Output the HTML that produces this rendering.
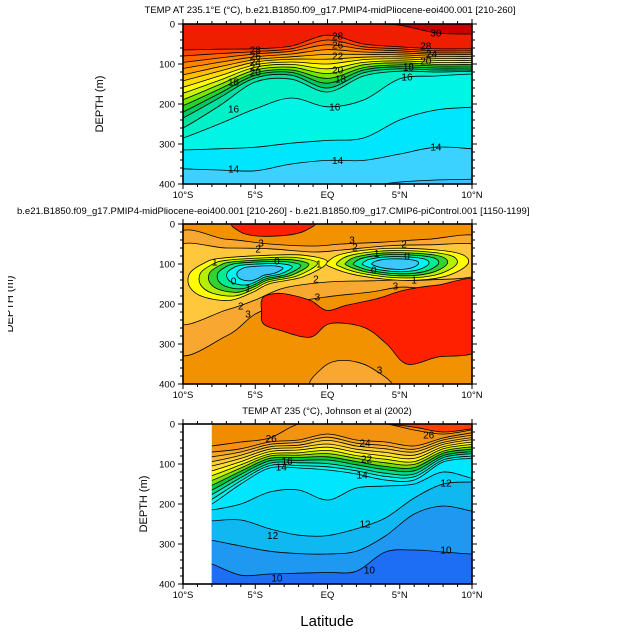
<!DOCTYPE html>
<html><head><meta charset="utf-8">
<style>
html,body{margin:0;padding:0;background:#fff;}
svg{display:block;font-family:"Liberation Sans",sans-serif;}
</style></head>
<body>
<svg id="chart" width="637" height="636" viewBox="0 0 637 636" xmlns="http://www.w3.org/2000/svg">
<text x="330" y="13" font-size="9.5" text-anchor="middle">TEMP AT 235.1°E (°C), b.e21.B1850.f09_g17.PMIP4-midPliocene-eoi400.001 [210-260]</text>
<text x="17" y="214" font-size="9.5">b.e21.B1850.f09_g17.PMIP4-midPliocene-eoi400.001 [210-260] - b.e21.B1850.f09_g17.CMIP6-piControl.001 [1150-1199]</text>
<text x="327" y="414" font-size="9.5" text-anchor="middle">TEMP AT 235 (°C), Johnson et al (2002)</text>
<text transform="translate(103,104) rotate(-90)" font-size="11" text-anchor="middle">DEPTH (m)</text>
<g clip-path="url(#ylab2clip)"><text transform="translate(13,304) rotate(-90)" font-size="11" text-anchor="middle">DEPTH (m)</text></g>
<text transform="translate(147,504) rotate(-90)" font-size="11" text-anchor="middle">DEPTH (m)</text>
<text x="327" y="626" font-size="15" text-anchor="middle">Latitude</text>
<defs>
<clipPath id="ylab2clip"><rect x="8" y="250" width="20" height="120"/></clipPath>
<clipPath id="clip1"><rect x="183" y="24" width="289" height="160"/></clipPath>
<clipPath id="clip2"><rect x="183" y="224" width="289" height="160"/></clipPath>
<clipPath id="clip3"><rect x="211.9" y="424" width="260.1" height="160"/></clipPath>
</defs>
<g id="layer"></g>
</svg>
<script>
// ---------- data ----------
const lats1 = [-10,-7.5,-5,-2.5,0,2.5,5,7.5,10];
const levels1 = ['30','28','27','26','25','24','23','22','21','20','19','18','17','16.5','16','15','14','13'];
const depth1 = [
 [0,0,0,0,0,0,3,22,25],
 [65,63,62,55,28,50,57,62,62],
 [80,74,69,62,40,57,62,67,67],
 [96,85,75,68,52,63,67,72,72],
 [111,96,82,75,64,70,72,76,76],
 [127,107,89,82,76,76,77,81,81],
 [142,118,95,88,88,83,82,86,86],
 [158,130,102,95,100,89,87,91,91],
 [173,141,108,101,112,96,92,96,96],
 [189,152,115,108,124,102,97,101,101],
 [204,163,122,115,136,109,102,105,105],
 [220,174,128,121,148,115,107,110,110],
 [235,185,135,128,160,122,112,115,115],
 [260,205,145,138,170,130,118,120,118],
 [285,250,212,185,207,190,137,130,125],
 [315,312,308,298,291,285,240,215,208],
 [362,365,367,350,341,341,325,308,312],
 [405,405,405,405,405,405,395,390,388]
];
const colors1 = ['#f01e00','#ff4600','#ff6400','#ff8200','#ffa000','#ffbe00','#ffdc00','#ffff00','#c8f500','#78e600','#28d228','#00c864','#00e0a0','#00f0c8','#00f5e6','#00e6ff','#3cd2ff','#3cc0ff'];
const labels1 = [['28',-5,65],['26',-5,80],['24',-5,95],['22',-5,108],['20',-5,120],['18',-6.5,145],['16',-6.5,212],['16',0.5,207],['16',5.5,133],['14',-6.5,362],['14',0.7,341],['14',7.5,308],['28',0.7,30],['26',0.7,52],['22',0.7,80],['20',0.7,115],['18',0.9,138],['30',7.5,22],['28',6.8,55],['24',7.2,75],['20',6.8,92],['18',5.6,108]];

const lats3 = [-8,-6,-4,-2,0,2,4,6,8,10];
const levels3 = ['28','26','25','24','23','22','21','20','19','18','17','16','15','14','13','12','11','10'];
const depth3 = [
 [0,0,0,0,0,0,0,8,20,12],
 [55,45,35,0,0,0,0,15,25,15],
 [70,62,45,40,25,40,45,55,35,22],
 [82,70,51,46,33,48,54,63,40,28],
 [94,78,57,53,41,55,62,70,46,34],
 [105,86,63,59,50,63,71,78,51,39],
 [117,94,69,65,58,71,80,86,57,45],
 [129,102,75,72,66,79,88,94,62,51],
 [141,110,80,78,74,86,97,101,68,57],
 [153,118,86,84,82,94,106,109,73,63],
 [165,126,92,91,90,102,114,117,79,69],
 [176,134,98,97,99,110,123,125,84,74],
 [188,142,104,104,107,117,131,132,90,80],
 [200,150,110,110,115,125,140,140,95,86],
 [215,200,170,165,190,160,155,150,120,136],
 [242,240,262,278,279,262,235,185,150,145],
 [291,305,318,324,325,318,280,225,205,218],
 [350,378,375,373,371,368,320,315,320,325]
];
const colors3 = ['#f08c00','#f29312','#f5a623','#f8b830','#fccc30','#ffe030','#ffff00','#c8f000','#78dc00','#00c83c','#00dc8c','#00ebc8','#00f5f0','#00e6ff','#00d4f8','#10b8f2','#1e98f0','#1e6ef5'];
const labels3 = [['26',-3.9,36],['24',2.6,47],['26',7,28],['14',-3.2,108],['14',2.4,128],['12',-3.8,279],['12',2.6,250],['12',8.2,147],['10',-3.5,385],['10',2.9,365],['10',8.2,315],['16',-2.8,92],['22',2.7,88]];

// panel 2 (difference) shapes in (lat, depth)
const p2Base = '#f39200';
const p2Band3 = [[-10.6,35],[-7,38],[-4,50],[-1,55],[1,50],[4,45],[7,38],[10.6,35],[10.6,150],[7,160],[5,158],[3,170],[0,182],[-3,200],[-5,225],[-7,280],[-10.6,316]];
const p2Band2 = [[-10.6,62],[-7,60],[-4,62],[-1,70],[1,65],[4,55],[7,52],[10.6,55],[10.6,125],[7,140],[5,140],[3,142],[0,145],[-3,160],[-5,190],[-7,215],[-10.6,245]];
const p2RedTop = [[-6.3,-5],[-6.07,19],[-4.9,30],[-2.8,28],[-1.45,15],[-1.2,-5]];
const p2RedBig = [[-4.57,191],[-4.2,178],[-3.06,174],[-1.2,191],[-0.06,216],[1.33,203],[3.4,187],[5.26,166],[7.57,153],[10.6,147],[10.6,308],[7.57,333],[5.49,350],[4.1,300],[2.49,258],[0.17,249],[-1.2,283],[-3.29,266],[-4.45,249],[-4.57,216]];
const p2LightBottom = [[-0.98,410],[-0.29,358],[1.1,341],[2.95,358],[4.33,410]];
const lensLeft = [[-9.54,124],[-8.61,99],[-7.46,86],[-3.99,78],[-1.68,78],[0,95],[-1.68,132],[-3.99,149],[-5.14,170],[-6.76,191],[-8.61,182],[-9.54,157]];
const lensRight = [[0,95],[1.1,74],[4.1,61],[7.57,65],[9.42,78],[9.65,103],[8.03,132],[5.26,141],[2.02,128],[0.17,107]];
const lensCenterLeft = [-4.6,118];
const lensCenterRight = [4.6,100];
const lensScales = [1,0.85,0.72,0.6,0.47,0.33];
const lensColors = ['#ffff00','#b4f000','#32d232','#00eb96','#00f5f0','#3cc8ff'];
const labels2 = [['3',-4.6,48],['2',-4.8,62],['3',1.7,40],['2',1.9,58],['2',5.3,50],['1',-7.8,95],['0',-3.5,92],['0',-6.5,142],['1',-5.5,160],['1',-0.6,100],['0',3.2,115],['0',5.5,80],['1',3.4,74],['2',-0.8,138],['3',-0.7,182],['2',-6,205],['3',-5.5,225],['3',4.7,155],['1',6,140],['3',3.6,365]];

const xTicksMajor = [-10,-5,0,5,10];
const xTickLabels = ['10°S','5°S','EQ','5°N','10°N'];
const yTicksMajor = [0,100,200,300,400];

// ---------- axes ----------
const NS='http://www.w3.org/2000/svg';
const layer=document.getElementById('layer');
const X0=183, W=289, H=160;
const tops=[24,224,424];
function xs(lat){return X0+(lat+10)*W/20;}
function ys(p,d){return tops[p]+d*H/400;}
function mk(tag,attrs,parent){const e=document.createElementNS(NS,tag);for(const k in attrs)e.setAttribute(k,attrs[k]);(parent||layer).appendChild(e);return e;}
function crPath(pts,closed){
  const n=pts.length;let d='M'+pts[0][0].toFixed(1)+' '+pts[0][1].toFixed(1);
  const g=i=>closed?pts[(i+n)%n]:pts[Math.max(0,Math.min(n-1,i))];
  const segs=closed?n:n-1;
  for(let i=0;i<segs;i++){const p0=g(i-1),p1=g(i),p2=g(i+1),p3=g(i+2);
    const c1=[p1[0]+(p2[0]-p0[0])/6,p1[1]+(p2[1]-p0[1])/6];
    const c2=[p2[0]-(p3[0]-p1[0])/6,p2[1]-(p3[1]-p1[1])/6];
    d+=' C'+c1[0].toFixed(1)+' '+c1[1].toFixed(1)+' '+c2[0].toFixed(1)+' '+c2[1].toFixed(1)+' '+p2[0].toFixed(1)+' '+p2[1].toFixed(1);}
  return closed?d+' Z':d;
}
function linePanel(p,lats,depths,colors,levels,baseColor,clip,labels){
  const g=mk('g',{'clip-path':'url(#'+clip+')'});
  
  
  const bg=mk('rect',{x:X0,y:tops[p],width:W,height:H,fill:baseColor},g);
  
  
  const paths=[];
  depths.forEach((row,i)=>{
    const pts=row.map((d,j)=>[xs(lats[j]),ys(p,d)]);
    pts.unshift([xs(lats[0])-6,pts[0][1]]);pts.push([xs(lats[lats.length-1])+6,pts[pts.length-1][1]]);
    const c=crPath(pts,false);paths.push(c);
    const f=mk('path',{d:c+' L'+(X0+W+10)+' '+(tops[p]+H+10)+' L'+(X0-10)+' '+(tops[p]+H+10)+' Z',fill:colors[i]},g);
    
    
  });
  paths.forEach((c,i)=>{const l=mk('path',{d:c,fill:'none',stroke:'#000','stroke-width':0.8},g);
    
    });
  labels.forEach(L=>{const t=mk('text',{x:xs(L[1]),y:ys(p,L[2])+3.5,'font-size':10,'text-anchor':'middle'},g);t.textContent=L[0];
    
    });
}
linePanel(0,lats1,depth1,colors1,levels1,'#c80000','clip1',labels1);
linePanel(2,lats3,depth3,colors3,levels3,'#ff4000','clip3',labels3);

// panel 2
(function(){
  const p=1;const g=mk('g',{'clip-path':'url(#clip2)'});
  
  
  const bg=mk('rect',{x:X0,y:tops[p],width:W,height:H,fill:p2Base},g);
  
  
  function shape(arr,fill,name){const pts=arr.map(a=>[xs(a[0]),ys(p,a[1])]);
    const e=mk('path',{d:crPath(pts,true),fill:fill,stroke:'#000','stroke-width':0.8},g);
    
    }
  shape(p2Band3,'#f8a830','band-2-to-3');
  shape(p2Band2,'#ffc83c','band-1-to-2');
  shape(p2RedTop,'#ff2000','red-anomaly-top');
  shape(p2RedBig,'#ff2000','red-anomaly-deep');
  shape(p2LightBottom,'#f8a830','light-anomaly-bottom');
  [[lensLeft,lensCenterLeft,'left'],[lensRight,lensCenterRight,'right']].forEach(L=>{
    lensScales.forEach((s,i)=>{
      const arr=L[0].map(a=>[L[1][0]+s*(a[0]-L[1][0]),L[1][1]+s*(a[1]-L[1][1])]);
      shape(arr,lensColors[i],'lens-'+L[2]+'-level-'+i);
    });
  });
  labels2.forEach(L=>{const t=mk('text',{x:xs(L[1]),y:ys(p,L[2])+3.5,'font-size':10,'text-anchor':'middle'},g);t.textContent=L[0];
    
    });
})();

// frames and ticks
for(let p=0;p<3;p++){
  const fr=mk('rect',{x:X0,y:tops[p],width:W,height:H,fill:'none',stroke:'#000','stroke-width':1.6});
  
  
  let d='';
  for(let lat=-10;lat<=10;lat++){const maj=lat%5===0;const L=maj?5:3;const x=xs(lat);
    d+='M'+x+' '+(tops[p]+H)+' v'+L+' M'+x+' '+tops[p]+' v'+(-L)+' ';}
  for(let dep=0;dep<=400;dep+=20){const maj=dep%100===0;const L=maj?5:3;const y=ys(p,dep);
    d+='M'+X0+' '+y+' h'+(-L)+' M'+(X0+W)+' '+y+' h'+L+' ';}
  const tk=mk('path',{d:d,stroke:'#000','stroke-width':1,fill:'none'});
  
  
  xTicksMajor.forEach((lat,i)=>{const t=mk('text',{x:xs(lat),y:tops[p]+H+14,'font-size':9.5,'text-anchor':'middle'});t.textContent=xTickLabels[i];
    
    });
  yTicksMajor.forEach(dep=>{const t=mk('text',{x:X0-8,y:ys(p,dep)+3.5,'font-size':9.5,'text-anchor':'end'});t.textContent=dep;
    
    });
}
</script>
</body></html>
